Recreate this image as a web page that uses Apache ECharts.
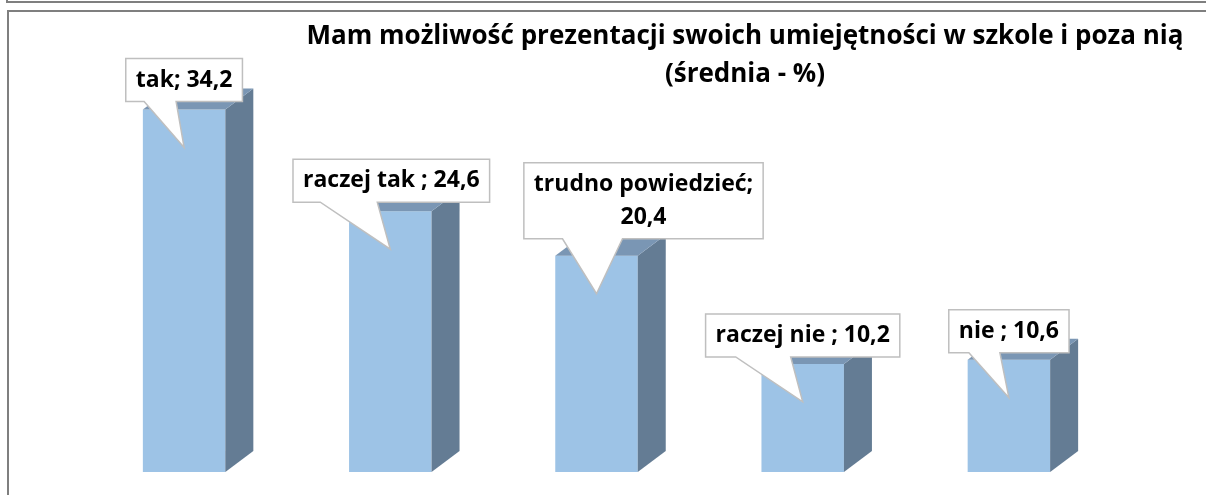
<!DOCTYPE html>
<html>
<head>
    <meta charset="utf-8">
    <title>ECharts</title>
    <style>
        html, body { margin: 0; padding: 0; background: #fff; }
        #main { width: 1206px; height: 495px; }
    </style>
</head>
<body>
    <div id="main"></div>
    <script src="https://cdn.jsdelivr.net/npm/echarts@6/dist/echarts.min.js"></script>
    <script type="text/javascript">

    // dane
    var categories = ['tak', 'raczej tak ', 'trudno powiedzieć', 'raczej nie ', 'nie '];
    var values = [34.2, 24.6, 20.4, 10.2, 10.6];
    var titleText = 'Mam możliwość prezentacji swoich umiejętności w szkole i poza nią';
    var subText = '(średnia - %)';

    // położenie dymków względem czubka (dx środka ramki, dół ramki, podstawa ogonka)
    var callouts = [
        { dx: 0,  bottom: -46, tail: [-40, -8],  wrap: false },
        { dx: 1,  bottom: -47, tail: [-70, -13], wrap: false },
        { dx: 47, bottom: -55, tail: [-34, 26],  wrap: true  },
        { dx: 0,  bottom: -45, tail: [-67, -12], wrap: false },
        { dx: 0,  bottom: -45, tail: [-40, -9],  wrap: false }
    ];

    var FONT = 'bold 23px "Open Sans"';
    var DX = 28, DY = 21;

    var ctx = document.createElement('canvas').getContext('2d');
    ctx.font = FONT;

    function labelOf(i) {
        var v = values[i].toFixed(1).replace('.', ',');
        return categories[i] + (callouts[i].wrap ? ';\n' : '; ') + v;
    }

    var myChart = echarts.init(document.getElementById('main'));

    var option = {
        animation: false,
        title: {
            text: titleText + '\n' + subText,
            left: 740,
            top: 13,
            textAlign: 'center',
            textStyle: {
                fontFamily: 'Open Sans',
                fontWeight: 'bold',
                fontSize: 26,
                lineHeight: 38,
                color: '#000'
            }
        },
        grid: { left: 81, right: 94, top: 48, bottom: 23 },
        xAxis: {
            type: 'category',
            data: categories,
            show: false
        },
        yAxis: {
            type: 'value',
            min: 0,
            max: 40,
            show: false
        },
        graphic: [
            { type: 'polyline', shape: { points: [[7, 0], [7, 2], [1206, 2]] }, style: { stroke: '#7f7f7f', lineWidth: 2, fill: null } },
            { type: 'rect', shape: { x: 8, y: 11, width: 1210, height: 500 }, style: { stroke: '#7f7f7f', lineWidth: 2, fill: null } }
        ],
        series: [
            {
                type: 'custom',
                data: values.map(function (v, i) { return [i, v]; }),
                encode: { x: 0, y: 1 },
                renderItem: function (params, api) {
                    var top = api.coord([api.value(0), api.value(1)]);
                    var base = api.coord([api.value(0), 0]);
                    var w = api.size([1, 0])[0] * 0.4;
                    var x0 = top[0] - w / 2, x1 = top[0] + w / 2;
                    var yT = top[1], yB = base[1];
                    return {
                        type: 'group',
                        children: [
                            { type: 'rect', shape: { x: x0, y: yT, width: w, height: yB - yT }, style: { fill: '#9DC3E6' } },
                            { type: 'polygon', shape: { points: [[x1, yT], [x1 + DX, yT - DY], [x1 + DX, yB - DY], [x1, yB]] }, style: { fill: '#647C94' } },
                            { type: 'polygon', shape: { points: [[x0, yT], [x1, yT], [x1 + DX, yT - DY], [x0 + DX, yT - DY]] }, style: { fill: '#7A96B4' } }
                        ]
                    };
                }
            },
            {
                type: 'custom',
                z: 5,
                data: values.map(function (v, i) { return [i, v]; }),
                encode: { x: 0, y: 1 },
                renderItem: function (params, api) {
                    var i = params.dataIndex;
                    var c = callouts[i];
                    var top = api.coord([api.value(0), api.value(1)]);
                    var tip = [top[0], top[1] + 38];
                    var text = labelOf(i);
                    var lines = text.split('\n');
                    var tw = 0;
                    lines.forEach(function (l) { tw = Math.max(tw, ctx.measureText(l).width); });
                    var bw = tw + 20;
                    var bh = lines.length * 33 + 10;
                    var cx = tip[0] + c.dx;
                    var bx0 = cx - bw / 2, bx1 = cx + bw / 2;
                    var by1 = tip[1] + c.bottom, by0 = by1 - bh;
                    var pts = [
                        [bx0, by0], [bx1, by0], [bx1, by1],
                        [tip[0] + c.tail[1], by1], tip, [tip[0] + c.tail[0], by1],
                        [bx0, by1]
                    ];
                    return {
                        type: 'group',
                        children: [
                            { type: 'polygon', shape: { points: pts }, style: { fill: '#fff', stroke: '#BFBFBF', lineWidth: 1.5 } },
                            { type: 'text', style: { text: text, x: cx, y: (by0 + by1) / 2, align: 'center', verticalAlign: 'middle', font: FONT, lineHeight: 33, fill: '#000' } }
                        ]
                    };
                }
            }
        ]
    };

    myChart.setOption(option);

    </script>
</body>
</html>
